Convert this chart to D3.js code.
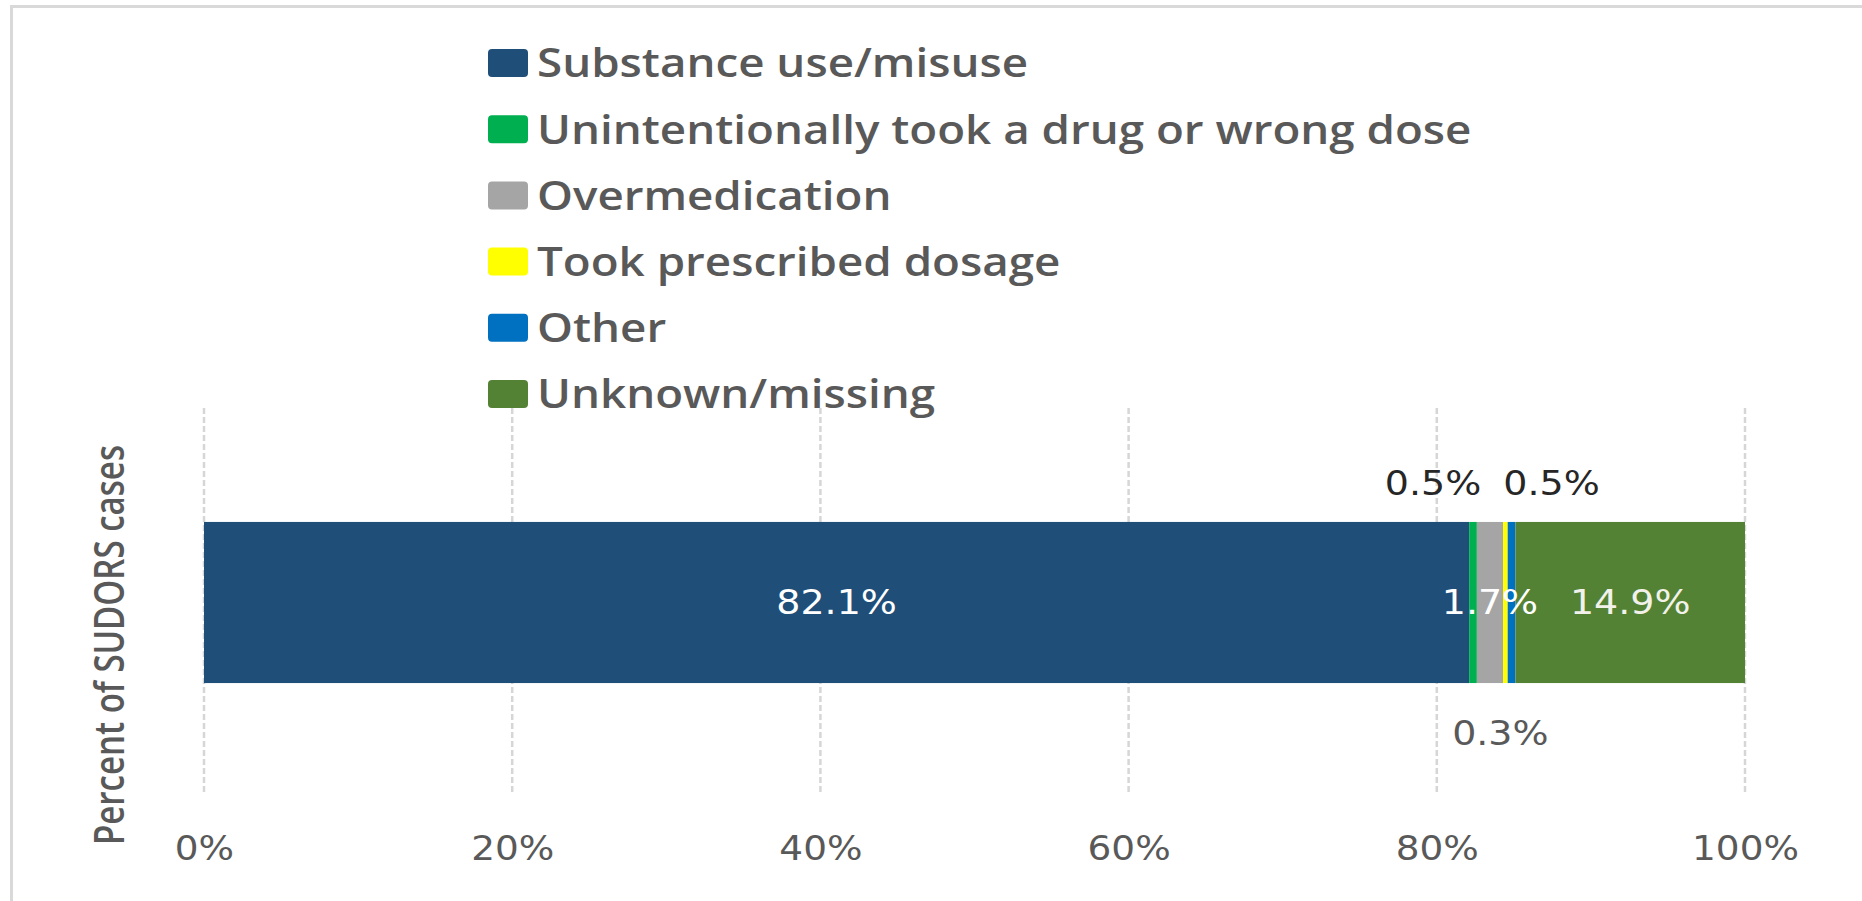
<!DOCTYPE html>
<html>
<head>
<meta charset="utf-8">
<script src="https://cdn.jsdelivr.net/npm/d3@7"></script>
<style>
  html, body { margin: 0; padding: 0; background: #ffffff; }
  svg { display: block; }
</style>
</head>
<body>
<svg id="chart" width="1862" height="901"></svg>
<script>
// Circumstances of overdose: share of SUDORS cases
const categories = [
  "Substance use/misuse",
  "Unintentionally took a drug or wrong dose",
  "Overmedication",
  "Took prescribed dosage",
  "Other",
  "Unknown/missing"
];
const values = [82.1, 0.5, 1.7, 0.3, 0.5, 14.9];
const colors = ["#1f4e79", "#00b050", "#a5a5a5", "#ffff00", "#0070c0", "#548235"];
const tickValues = [0, 20, 40, 60, 80, 100];
const rowLabel = "Percent of SUDORS cases";

// Where each value label goes relative to its segment
const labelPlacement = ["inside", "above", "inside", "below", "above", "inside"];
const labelShift = [0, -40, 0, -5, 40, 0];
const labelColor = ["#ffffff", "#262626", "#ffffff", "#595959", "#262626", "#f2f2ea"];

const svg = d3.select("#chart");
const W = 1862, H = 901;

svg.append("rect").attr("width", W).attr("height", H).attr("fill", "#ffffff");

// light frame along the top and left edges
svg.append("line").attr("x1", 10).attr("x2", W).attr("y1", 6.5).attr("y2", 6.5)
  .attr("stroke", "#d9d9d9").attr("stroke-width", 3);
svg.append("line").attr("x1", 11.5).attr("x2", 11.5).attr("y1", 5).attr("y2", H)
  .attr("stroke", "#d9d9d9").attr("stroke-width", 3);

const x = d3.scaleLinear().domain([0, 100]).range([204, 1745]);
const y = d3.scaleBand().domain([rowLabel]).range([410, 795]).padding(0.41);

const gridTop = 408, gridBottom = 793;

// stretch text horizontally by a factor, keeping its anchor
function stretch(sel, k) {
  sel.each(function () {
    const w = this.getComputedTextLength();
    d3.select(this).attr("textLength", w * k).attr("lengthAdjust", "spacingAndGlyphs");
  });
}

// vertical dashed gridlines
svg.append("g").selectAll("line")
  .data(tickValues)
  .join("line")
  .attr("x1", d => x(d)).attr("x2", d => x(d))
  .attr("y1", gridTop).attr("y2", gridBottom)
  .attr("stroke", "#d6d6d6").attr("stroke-width", 2.5)
  .attr("stroke-dasharray", "6,3");

// x axis labels
const axis = d3.axisBottom(x).tickValues(tickValues).tickSize(0).tickFormat(d => d + "%");
const gx = svg.append("g").attr("transform", `translate(0, ${833})`).call(axis);
gx.select(".domain").remove();
gx.selectAll("text")
  .attr("font-family", "DejaVu Sans, Verdana, sans-serif")
  .attr("font-size", 34)
  .attr("fill", "#595959")
  .attr("dy", "0.71em")
  .call(stretch, 1.1);

// stacked segments
const row = {};
categories.forEach((c, i) => row[c] = values[i]);
const stack = d3.stack().keys(categories)([row]);

const bandY = y(rowLabel), bandH = y.bandwidth();
svg.append("g").selectAll("rect")
  .data(stack)
  .join("rect")
  .attr("x", d => x(d[0][0]))
  .attr("width", d => x(d[0][1]) - x(d[0][0]))
  .attr("y", bandY)
  .attr("height", bandH)
  .attr("fill", (d, i) => colors[i]);

// value labels
const midY = bandY + bandH / 2;
svg.append("g").selectAll("text")
  .data(stack)
  .join("text")
  .attr("x", (d, i) => x((d[0][0] + d[0][1]) / 2) + labelShift[i])
  .attr("y", (d, i) => labelPlacement[i] === "above" ? bandY - 39
                     : labelPlacement[i] === "below" ? bandY + bandH + 50
                     : midY)
  .attr("dy", "0.36em")
  .attr("text-anchor", "middle")
  .attr("font-family", "DejaVu Sans, Verdana, sans-serif")
  .attr("font-size", 33)
  .attr("fill", (d, i) => labelColor[i])
  .text((d, i) => values[i].toFixed(1) + "%")
  .call(stretch, 1.15);

// rotated row title
svg.append("text")
  .attr("transform", `translate(124, 645) rotate(-90)`)
  .attr("text-anchor", "middle")
  .attr("font-family", "Open Sans, sans-serif")
  .attr("font-weight", 600)
  .attr("font-size", 42)
  .attr("fill", "#595959")
  .text(rowLabel)
  .each(function () {
    d3.select(this).attr("textLength", 400).attr("lengthAdjust", "spacingAndGlyphs");
  });

// legend
const legend = svg.append("g").attr("transform", "translate(488, 63)");
const legendRow = 66.2;
const items = legend.selectAll("g")
  .data(categories)
  .join("g")
  .attr("transform", (d, i) => `translate(0, ${i * legendRow})`);
items.append("rect")
  .attr("x", 0).attr("y", -14)
  .attr("width", 40).attr("height", 28)
  .attr("rx", 4).attr("ry", 4)
  .attr("fill", (d, i) => colors[i]);
const legendText = items.append("text")
  .attr("x", 49)
  .attr("y", 0)
  .attr("dy", "0.36em")
  .attr("font-family", "Open Sans, sans-serif")
  .attr("font-weight", 600)
  .attr("font-size", 40)
  .attr("fill", "#595959")
  .text(d => d);
// widen the legend type so the first entry spans 491px
const legendK = 491 / legendText.node().getComputedTextLength();
legendText.call(stretch, legendK);
</script>
</body>
</html>
